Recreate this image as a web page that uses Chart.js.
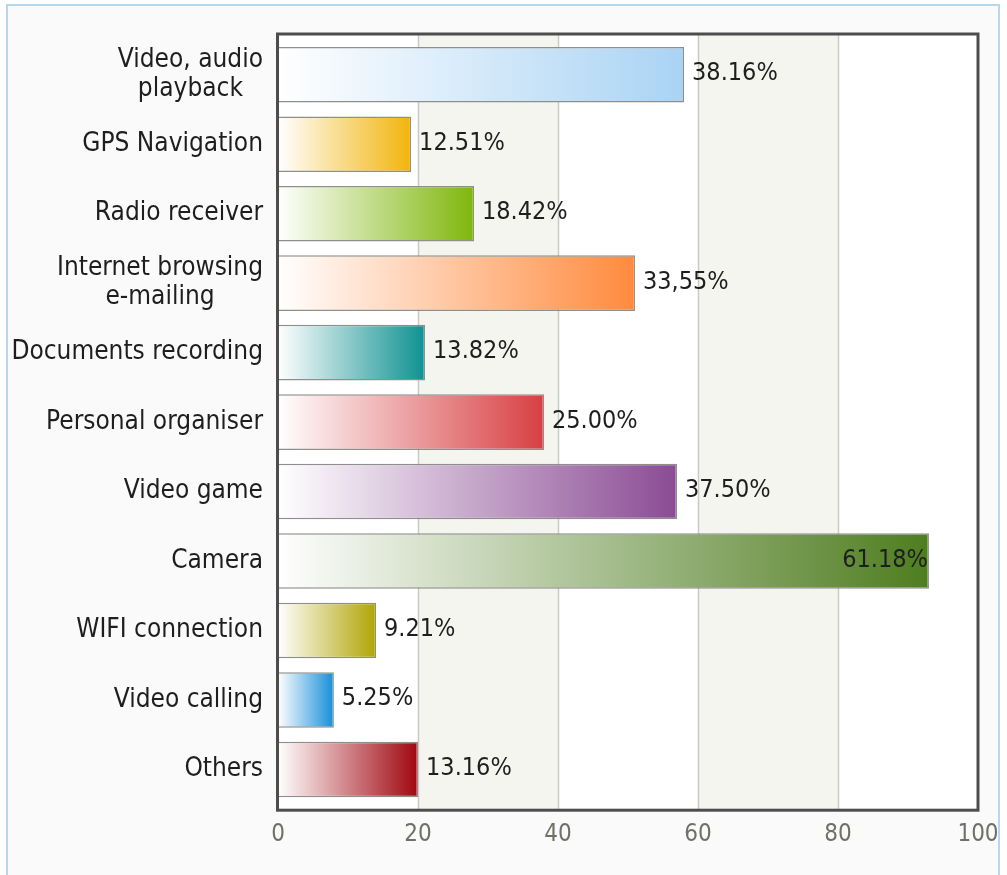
<!DOCTYPE html>
<html>
<head>
<meta charset="utf-8">
<title>Mobile phone features used</title>
<script src="https://cdn.jsdelivr.net/npm/chart.js@4/dist/chart.umd.min.js"></script>
<style>
    html, body { margin: 0; padding: 0; background: #ffffff; overflow: hidden; }
    #frame {
        position: absolute; left: 6px; top: 4px; width: 990px; height: 900px;
        border: 2px solid #b9d7ec; border-bottom: none; background: #fafafa;
    }
    #chart { position: absolute; left: 0; top: 0; }
</style>
</head>
<body>
<div id="frame"></div>
<canvas id="chart" width="1007" height="875"></canvas>
<script>
// Features used on the phone, share of respondents
const features = [
    ['Video, audio', 'playback'],
    'GPS Navigation',
    'Radio receiver',
    ['Internet browsing', 'e-mailing'],
    'Documents recording',
    'Personal organiser',
    'Video game',
    'Camera',
    'WIFI connection',
    'Video calling',
    'Others'
];
const shares = [38.16, 12.51, 18.42, 33.55, 13.82, 25.00, 37.50, 61.18, 9.21, 5.25, 13.16];
const shareLabels = ['38.16%', '12.51%', '18.42%', '33,55%', '13.82%', '25.00%', '37.50%', '61.18%', '9.21%', '5.25%', '13.16%'];

// axis is in respondents (out of 152)
const respondents = 152;
const axisTicks = [0, 20, 40, 60, 80, 100];

const barColors = ['#a9d3f4', '#f1b50a', '#7fb70c', '#ff8a3d', '#0f9191', '#d83f42',
                   '#8a4b94', '#4e7d1f', '#b1a502', '#148fd9', '#a0060f'];

const labelFont = '"DejaVu Sans Condensed", "DejaVu Sans", sans-serif';

function toPercent(count) {
    return count * 100 / respondents;
}

// white-to-colour fill along each bar
function barGradient(context) {
    const chart = context.chart;
    const xScale = chart.scales.x;
    const color = barColors[context.dataIndex];
    if (!chart.chartArea || !xScale) return color;
    const x0 = xScale.getPixelForValue(0);
    const x1 = xScale.getPixelForValue(shares[context.dataIndex]);
    const g = chart.ctx.createLinearGradient(x0, 0, x1, 0);
    g.addColorStop(0, '#ffffff');
    g.addColorStop(1, color);
    return g;
}

// bands, grid lines and the dark frame round the plot
const plotFrame = {
    id: 'plotFrame',
    beforeDatasetsDraw(chart) {
        const { ctx, chartArea, scales } = chart;
        const top = chartArea.top - 6, bottom = chartArea.bottom + 6;
        ctx.save();
        ctx.fillStyle = '#ffffff';
        ctx.fillRect(chartArea.left, top, chartArea.right - chartArea.left, bottom - top);
        for (let i = 1; i < axisTicks.length - 1; i += 2) {
            const a = scales.x.getPixelForValue(toPercent(axisTicks[i]));
            const b = scales.x.getPixelForValue(toPercent(axisTicks[i + 1]));
            ctx.fillStyle = '#f5f5f0';
            ctx.fillRect(a, top, b - a, bottom - top);
        }
        ctx.strokeStyle = '#c9c9c6';
        ctx.lineWidth = 1.5;
        axisTicks.slice(1, -1).forEach(t => {
            const x = Math.round(scales.x.getPixelForValue(toPercent(t))) + 0.5;
            ctx.beginPath();
            ctx.moveTo(x, top);
            ctx.lineTo(x, bottom);
            ctx.stroke();
        });
        ctx.restore();
    },
    afterDatasetsDraw(chart) {
        const { ctx, chartArea, scales } = chart;
        const top = chartArea.top - 6, bottom = chartArea.bottom + 6;
        ctx.save();

        // value labels
        ctx.font = '25px ' + labelFont;
        ctx.fillStyle = '#1e1e1e';
        ctx.textBaseline = 'middle';
        shares.forEach((v, i) => {
            const end = scales.x.getPixelForValue(v);
            const y = scales.y.getPixelForValue(i) - 1;
            const w = ctx.measureText(shareLabels[i]).width;
            if (end + 8 + w > chartArea.right - 4) {
                ctx.textAlign = 'right';
                ctx.fillText(shareLabels[i], end - 1, y);
            } else {
                ctx.textAlign = 'left';
                ctx.fillText(shareLabels[i], end + 8, y);
            }
        });

        // category labels, multi-line ones centred in their block
        ctx.font = '26px ' + labelFont;
        const right = chartArea.left - 15;
        features.forEach((f, i) => {
            const lines = Array.isArray(f) ? f : [f];
            const y = scales.y.getPixelForValue(i);
            const lh = 29;
            if (lines.length === 1) {
                ctx.textAlign = 'right';
                ctx.fillText(lines[0], right, y);
                return;
            }
            const bw = Math.max(...lines.map(l => ctx.measureText(l).width));
            ctx.textAlign = 'center';
            lines.forEach((l, k) => {
                ctx.fillText(l, right - bw / 2, y + (k - (lines.length - 1) / 2) * lh);
            });
        });

        ctx.strokeStyle = '#4d4d4d';
        ctx.lineWidth = 3;
        ctx.strokeRect(chartArea.left - 0.5, top, chartArea.right - chartArea.left + 0.5, bottom - top);
        ctx.restore();
    }
};

new Chart(document.getElementById('chart').getContext('2d'), {
    type: 'bar',
    data: {
        labels: features,
        datasets: [{
            data: shares,
            backgroundColor: barGradient,
            borderColor: '#8e8e8a',
            borderWidth: 1.5,
            borderSkipped: 'left',
            barPercentage: 0.8,
            categoryPercentage: 1
        }]
    },
    options: {
        indexAxis: 'y',
        responsive: false,
        animation: false,
        layout: { padding: { left: 278, top: 40, right: 29, bottom: 10 } },
        plugins: {
            legend: { display: false },
            tooltip: { enabled: false }
        },
        scales: {
            y: { display: false },
            x: {
                min: 0,
                max: toPercent(axisTicks[axisTicks.length - 1]),
                afterBuildTicks(scale) {
                    scale.ticks = axisTicks.map(t => ({ value: toPercent(t) }));
                },
                // let the "100" label hang past the plot edge
                afterFit(scale) {
                    scale.paddingLeft = 0;
                    scale.paddingRight = 0;
                },
                grid: { display: false, drawTicks: false },
                border: { display: false },
                ticks: {
                    padding: 16,
                    maxRotation: 0,
                    color: '#707068',
                    font: { family: '"DejaVu Sans Condensed", "DejaVu Sans", sans-serif', size: 24 },
                    callback: value => Math.round(value * respondents / 100)
                }
            }
        }
    },
    plugins: [plotFrame]
});
</script>
</body>
</html>
